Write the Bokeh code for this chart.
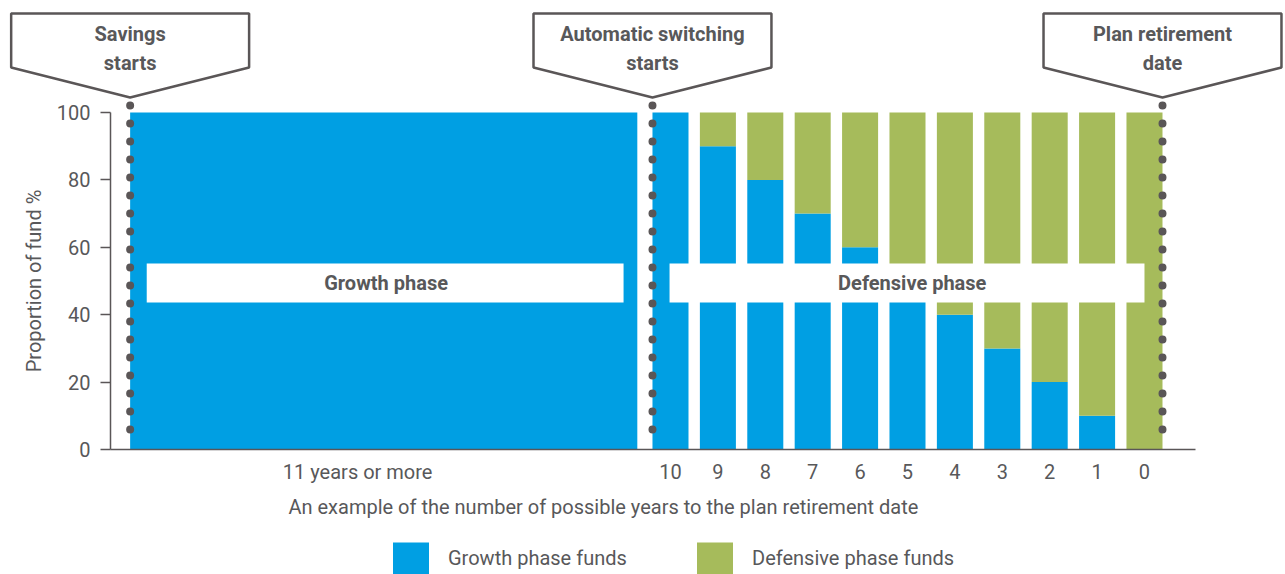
from bokeh.plotting import figure
from bokeh.models import (Range1d, FixedTicker, Legend, LegendItem, Label,
                          PolyAnnotation, ColumnDataSource)
from bokeh.embed import file_html
from bokeh.resources import INLINE

# ---------------- data ----------------
years = [10, 9, 8, 7, 6, 5, 4, 3, 2, 1, 0]
growth_pct = [100, 90, 80, 70, 60, 50, 40, 30, 20, 10, 0]
defensive_pct = [0, 10, 20, 30, 40, 50, 60, 70, 80, 90, 100]
early_label = "11 years or more"
early_growth_pct = [100]
y_ticks = [0, 20, 40, 60, 80, 100]
series_names = ["Growth phase funds", "Defensive phase funds"]
phase_names = ["Growth phase", "Defensive phase"]
milestone_lines = [["Savings", "starts"],
                   ["Automatic switching", "starts"],
                   ["Plan retirement", "date"]]
x_title = "An example of the number of possible years to the plan retirement date"
y_title = "Proportion of fund %"

# ---------------- style / layout ----------------
FONT = "Roboto"
BLUE = "#009fe3"
GREEN = "#a6bb5b"
TEXT = "#58585a"
DARK = "#5a5657"
BAR_W = 0.76
BLOCK = (10.70, 21.40)          # x extent of the "11 years or more" block
EARLY_TICK = 16.6
AXIS_X = (-1.076, 21.814)       # visible extent of the x axis
PHASE_BOX_Y = (43.6, 55.2)
PHASE_BOX_X = [(10.99, 21.05), (0.0, 10.02)]
PHASE_TEXT_X = [16.0, 4.9]
CALLOUT_HALF = 2.51
CALLOUT_Y = (129.38, 113.35, 104.45)   # top, shoulder, tip
CALLOUT_TEXT_Y = (123.4, 114.8)
LEGEND_LOCS = [(388, -4), (692, -4)]

p = figure(width=1285, height=574, title=None,
           x_range=Range1d(24.135, -2.975), y_range=Range1d(-37.09, 133.23),
           output_backend="svg", toolbar_location=None,
           min_border_left=0, min_border_right=0,
           min_border_top=0, min_border_bottom=0)
p.outline_line_color = None
p.grid.visible = False

# early block (100% growth)
src_early = ColumnDataSource(dict(left=[BLOCK[0]], right=[BLOCK[1]],
                                  top=early_growth_pct, bottom=[0]))
p.quad(left="left", right="right", top="top", bottom="bottom",
       source=src_early, fill_color=BLUE, line_color=None)

# switching bars
src = ColumnDataSource(dict(year=years, growth=growth_pct, defensive=defensive_pct))
rs = p.vbar_stack(["growth", "defensive"], x="year", width=BAR_W,
                  color=[BLUE, GREEN], line_color=None, source=src)

# phase label boxes
p.quad(left=[b[0] for b in PHASE_BOX_X], right=[b[1] for b in PHASE_BOX_X],
       bottom=PHASE_BOX_Y[0], top=PHASE_BOX_Y[1],
       fill_color="white", line_color=None)
for tx, name in zip(PHASE_TEXT_X, phase_names):
    p.add_layout(Label(x=tx, y=sum(PHASE_BOX_Y) / 2 + 0.15, text=name,
                       text_align="center", text_baseline="middle",
                       text_font=FONT, text_font_size="20px",
                       text_font_style="bold", text_color=TEXT))

# milestone dotted lines and callouts
milestones = [BLOCK[1], years[0] + BAR_W / 2, years[-1] - BAR_W / 2]
p.segment(x0=milestones, x1=milestones, y0=102.1, y1=3.5,
          line_color=DARK, line_width=8, line_dash="0 18", line_cap="round")
for mx, lines in zip(milestones, milestone_lines):
    top, shoulder, tip = CALLOUT_Y
    p.add_layout(PolyAnnotation(
        xs=[mx - CALLOUT_HALF, mx + CALLOUT_HALF, mx + CALLOUT_HALF, mx, mx - CALLOUT_HALF],
        ys=[top, top, shoulder, tip, shoulder],
        fill_color="white", fill_alpha=1.0,
        line_color=DARK, line_alpha=1.0, line_width=2.5))
    for ty, line in zip(CALLOUT_TEXT_Y, lines):
        p.add_layout(Label(x=mx, y=ty, text=line,
                           text_align="center", text_baseline="middle",
                           text_font=FONT, text_font_size="20px",
                           text_font_style="bold", text_color=TEXT))

# axes
yax = p.yaxis[0]
yax.fixed_location = AXIS_X[1]
yax.ticker = FixedTicker(ticks=y_ticks)
yax.bounds = (0, 100)
yax.major_tick_out = 10
yax.major_tick_in = 0
yax.minor_tick_line_color = None
yax.axis_line_color = DARK
yax.axis_line_width = 1.5
yax.major_tick_line_color = DARK
yax.major_tick_line_width = 1.5
yax.major_label_standoff = 10
yax.major_label_text_font = FONT
yax.major_label_text_font_size = "20px"
yax.major_label_text_color = TEXT
yax.axis_label = y_title
yax.axis_label_text_font = FONT
yax.axis_label_text_font_size = "20px"
yax.axis_label_text_font_style = "normal"
yax.axis_label_text_color = TEXT
yax.axis_label_standoff = 8

xax = p.xaxis[0]
xax.fixed_location = 0
xax.bounds = AXIS_X
xax.ticker = FixedTicker(ticks=[EARLY_TICK] + years)
xax.major_label_overrides = {EARLY_TICK: early_label}
xax.major_tick_out = 0
xax.major_tick_in = 0
xax.minor_tick_line_color = None
xax.axis_line_color = DARK
xax.axis_line_width = 1.5
xax.major_label_standoff = 10
xax.major_label_text_font = FONT
xax.major_label_text_font_size = "20px"
xax.major_label_text_color = TEXT

p.add_layout(Label(x=18.06, y=-17.2, text=x_title,
                   text_align="left", text_baseline="middle",
                   text_font=FONT, text_font_size="20px", text_color=TEXT))

for r, name, loc in zip(rs, series_names, LEGEND_LOCS):
    p.add_layout(Legend(items=[LegendItem(label=name, renderers=[r])],
                        location=loc, glyph_width=45, glyph_height=40,
                        label_standoff=15, padding=0, margin=0,
                        border_line_color=None, background_fill_alpha=0,
                        label_text_font=FONT, label_text_font_size="20px",
                        label_text_color=TEXT), "center")

open("out.html", "w").write(file_html(p, INLINE))
